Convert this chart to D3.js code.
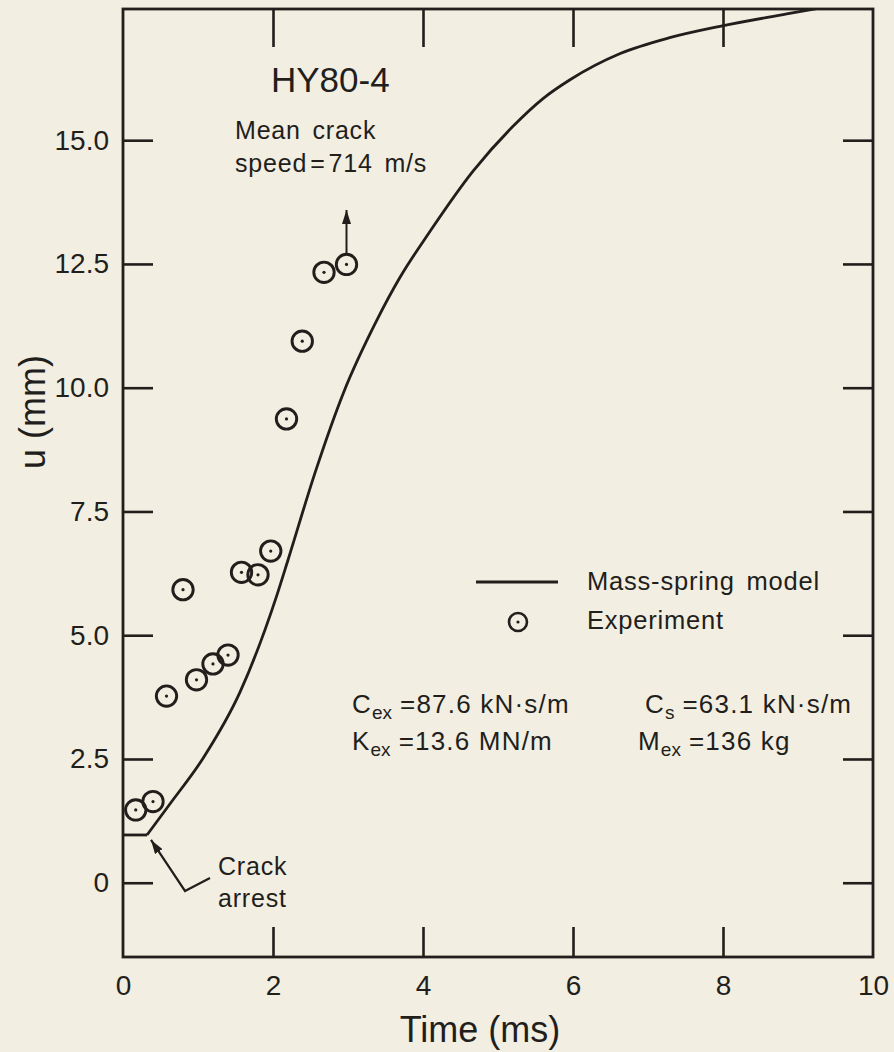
<!DOCTYPE html>
<html>
<head>
<meta charset="utf-8">
<script src="https://cdn.jsdelivr.net/npm/d3@7"></script>
<style>
  html, body { margin: 0; padding: 0; background: #f2eee2; }
  svg { display: block; }
  text { font-family: "Liberation Sans", Arial, Helvetica, sans-serif; fill: #221e1b; }
</style>
</head>
<body>
<svg id="chart" width="894" height="1052"></svg>
<script>
// Mass-spring model response (time in ms, displacement u in mm)
const modelTime = [0, 0.32, 0.63, 1.07, 1.56, 2.05, 2.20, 2.56, 2.94, 3.38, 3.69, 4.09, 4.67, 5.20, 5.60, 5.96, 6.63, 7.29, 7.96, 8.85, 9.25];
const modelU    = [0.965, 0.965, 1.60, 2.52, 3.85, 5.80, 6.52, 8.28, 9.90, 11.35, 12.22, 13.15, 14.38, 15.28, 15.84, 16.22, 16.75, 17.07, 17.30, 17.55, 17.66];

// Measured points
const expTime = [0.17, 0.40, 0.58, 0.80, 0.98, 1.20, 1.40, 1.58, 1.80, 1.97, 2.18, 2.39, 2.68, 2.98];
const expU    = [1.47, 1.64, 3.77, 5.92, 4.10, 4.42, 4.60, 6.27, 6.22, 6.70, 9.37, 10.94, 12.33, 12.49];

// Axis ticks
const xTicks = [0, 2, 4, 6, 8, 10];
const xInnerTicks = [2, 4, 6, 8];
const yTicks = [0, 2.5, 5.0, 7.5, 10.0, 12.5, 15.0];

const ink = "#221e1b";
const svg = d3.select("#chart");

const frame = { left: 123, right: 873, top: 9, bottom: 957 };
const x = d3.scaleLinear().domain([0, 10]).range([frame.left, frame.right]);
const y = d3.scaleLinear().domain([-1.5, 17.65]).range([frame.bottom, frame.top]);

// Inward ticks on all four sides
const yLeft = svg.append("g").attr("transform", `translate(${frame.left},0)`)
  .call(d3.axisLeft(y).tickValues(yTicks).tickSize(-30).tickPadding(14)
    .tickFormat(d => d === 0 ? "0" : d3.format(".1f")(d)));
const yRight = svg.append("g").attr("transform", `translate(${frame.right},0)`)
  .call(d3.axisRight(y).tickValues(yTicks).tickSize(-30).tickFormat(""));
const xTop = svg.append("g").attr("transform", `translate(0,${frame.top})`)
  .call(d3.axisTop(x).tickValues(xInnerTicks).tickSize(-38).tickFormat(""));
const xBottom = svg.append("g").attr("transform", `translate(0,${frame.bottom})`)
  .call(d3.axisBottom(x).tickValues(xInnerTicks).tickSize(-30).tickFormat(""));
const xLabels = svg.append("g").attr("transform", `translate(0,${frame.bottom})`)
  .call(d3.axisBottom(x).tickValues(xTicks).tickSize(0).tickPadding(18).tickFormat(d3.format("d")));

[yLeft, yRight, xTop, xBottom, xLabels].forEach(g => {
  g.select(".domain").remove();
  g.selectAll(".tick line").attr("stroke", ink).attr("stroke-width", 2.6);
  g.selectAll(".tick text").attr("fill", ink).style("font-size", "28px")
    .style("font-family", '"Liberation Sans", Arial, Helvetica, sans-serif');
});

// Frame
svg.append("rect")
  .attr("x", frame.left).attr("y", frame.top)
  .attr("width", frame.right - frame.left).attr("height", frame.bottom - frame.top)
  .attr("fill", "none").attr("stroke", ink).attr("stroke-width", 2.8);

// Axis titles
svg.append("text").attr("x", 480).attr("y", 1042).attr("text-anchor", "middle")
  .style("font-size", "36px").text("Time (ms)");
svg.append("text").attr("transform", "translate(45,412) rotate(-90)").attr("text-anchor", "middle")
  .style("font-size", "36px").text("u (mm)");

// Clip to the plotting frame
svg.append("clipPath").attr("id", "plotClip").append("rect")
  .attr("x", frame.left).attr("y", frame.top)
  .attr("width", frame.right - frame.left).attr("height", frame.bottom - frame.top);

// Model curve: flat arrest segment, then smooth rise
const model = modelTime.map((t, i) => ({ t, u: modelU[i] }));
const plot = svg.append("g").attr("clip-path", "url(#plotClip)");
plot.append("path")
  .datum(model.slice(0, 2))
  .attr("d", d3.line().x(d => x(d.t)).y(d => y(d.u)))
  .attr("fill", "none").attr("stroke", ink).attr("stroke-width", 2.8);
plot.append("path")
  .datum(model.slice(1))
  .attr("d", d3.line().x(d => x(d.t)).y(d => y(d.u)).curve(d3.curveMonotoneX))
  .attr("fill", "none").attr("stroke", ink).attr("stroke-width", 2.8);

// Experimental points: circled dots
const exp = expTime.map((t, i) => ({ t, u: expU[i] }));
const pts = svg.append("g").selectAll("g").data(exp).join("g")
  .attr("transform", d => `translate(${x(d.t)},${y(d.u)})`);
pts.append("circle").attr("r", 10.2).attr("fill", "none").attr("stroke", ink).attr("stroke-width", 2.9);
pts.append("circle").attr("r", 1.6).attr("fill", ink);

// Arrow marker
const defs = svg.append("defs");
defs.append("marker").attr("id", "arrowHead")
  .attr("viewBox", "0 0 14 9").attr("refX", 14).attr("refY", 4.5)
  .attr("markerWidth", 14).attr("markerHeight", 9)
  .attr("markerUnits", "userSpaceOnUse").attr("orient", "auto")
  .append("path").attr("d", "M0,0 L14,4.5 L0,9 Z").attr("fill", ink);

// Title
svg.append("text").attr("x", 271).attr("y", 92).style("font-size", "35px").text("HY80-4");

// Mean crack speed note with arrow from the last point
const lastPt = exp[exp.length - 1];
svg.append("line")
  .attr("x1", x(lastPt.t)).attr("y1", y(lastPt.u) - 11)
  .attr("x2", x(lastPt.t)).attr("y2", 210)
  .attr("stroke", ink).attr("stroke-width", 2).attr("marker-end", "url(#arrowHead)");
const noteStyle = sel => sel.style("font-size", "25px").style("letter-spacing", "0.8px").style("word-spacing", "4px");
svg.append("text").attr("x", 235).attr("y", 139).call(noteStyle).text("Mean crack");
const speed = svg.append("text").attr("x", 235).attr("y", 172).call(noteStyle);
speed.append("tspan").text("speed");
speed.append("tspan").attr("dx", 3).text("=");
speed.append("tspan").attr("dx", 3).text("714 m/s");

// Crack arrest note
const kx = x(modelTime[1]), ky = y(modelU[1]);
svg.append("path")
  .attr("d", `M${kx + 63},${ky + 43} L${kx + 38},${ky + 56} L${kx + 4},${ky + 5}`)
  .attr("fill", "none").attr("stroke", ink).attr("stroke-width", 2.2)
  .attr("marker-end", "url(#arrowHead)");
svg.append("text").attr("x", 218).attr("y", 875).call(noteStyle).text("Crack");
svg.append("text").attr("x", 218).attr("y", 907).call(noteStyle).text("arrest");

// Legend
svg.append("line").attr("x1", 476).attr("x2", 558).attr("y1", 582).attr("y2", 582)
  .attr("stroke", ink).attr("stroke-width", 3);
const lg = svg.append("g").attr("transform", "translate(518,622)");
lg.append("circle").attr("r", 9).attr("fill", "none").attr("stroke", ink).attr("stroke-width", 2.6);
lg.append("circle").attr("r", 1.6).attr("fill", ink);
svg.append("text").attr("x", 587).attr("y", 590).call(noteStyle).style("font-size", "25.5px").text("Mass-spring model");
svg.append("text").attr("x", 587).attr("y", 629).call(noteStyle).style("font-size", "25.5px").text("Experiment");

// Model parameters
const param = (px, py, main, sub, rest) => {
  const t = svg.append("text").attr("x", px).attr("y", py)
    .style("font-size", "26px").style("letter-spacing", "1.2px");
  t.append("tspan").text(main);
  t.append("tspan").attr("dy", 6).style("font-size", "19px").style("letter-spacing", "0px").text(sub);
  t.append("tspan").attr("dy", -6).attr("dx", 8).text(rest);
};
param(352, 713, "C", "ex", "=87.6 kN·s/m");
param(352, 750, "K", "ex", "=13.6 MN/m");
param(645, 713, "C", "s", "=63.1 kN·s/m");
param(638, 750, "M", "ex", "=136 kg");
</script>
</body>
</html>
